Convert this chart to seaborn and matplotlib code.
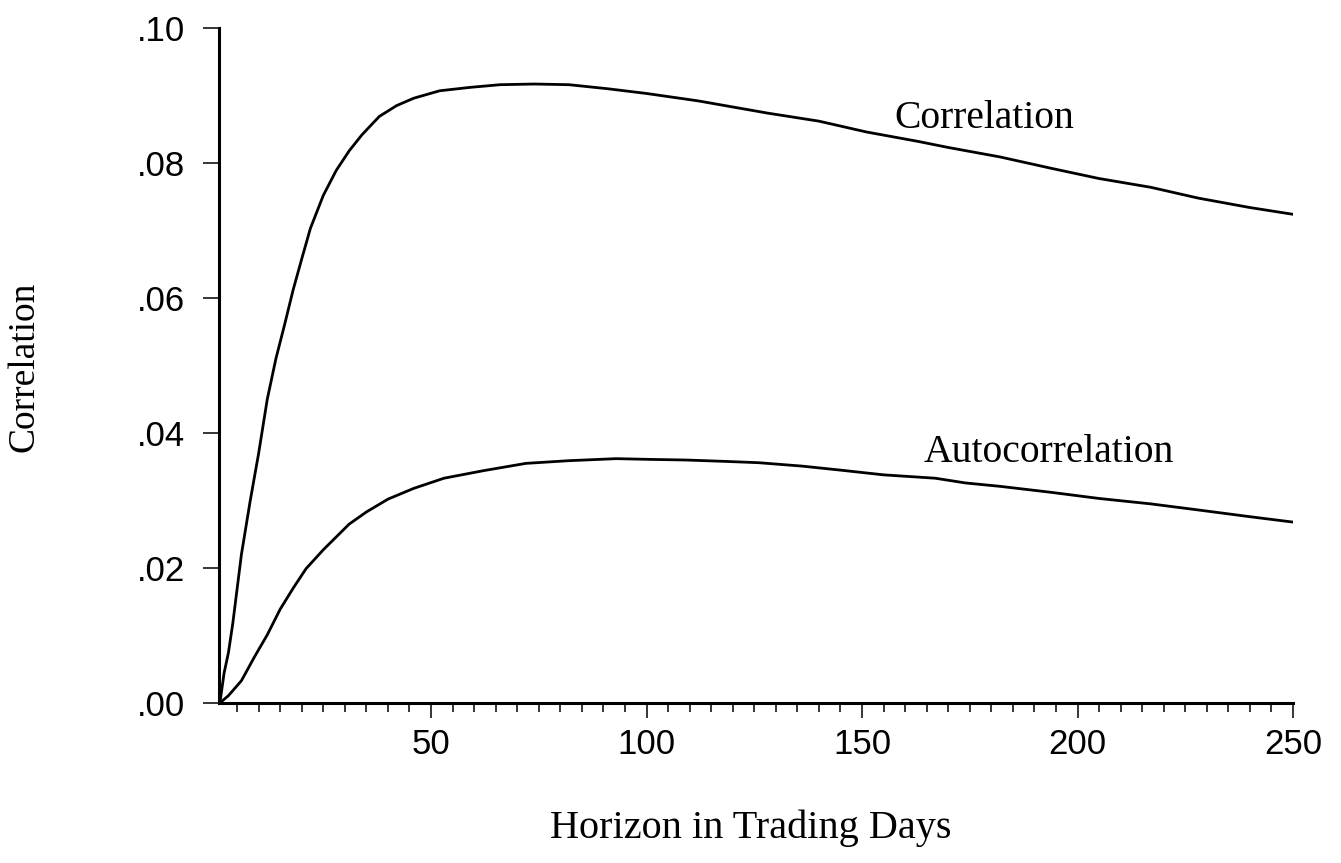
import matplotlib
matplotlib.use("Agg")
import matplotlib.pyplot as plt
from matplotlib.ticker import MultipleLocator, FuncFormatter
import pandas as pd
import seaborn as sns

# values
corr_days = [1, 2, 3, 4, 6, 8, 10, 12, 14, 16, 18, 20, 22, 25, 28, 31, 34, 38,
             42, 46, 52, 59, 66, 74, 82, 91, 100, 112, 128, 140, 151, 163, 170,
             182, 194, 205, 217, 228, 240, 250]
corr_vals = [0.0000, 0.0045, 0.0075, 0.0118, 0.0220, 0.0298, 0.0370, 0.0450,
             0.0510, 0.0560, 0.0612, 0.0658, 0.0703, 0.0752, 0.0789, 0.0818,
             0.0842, 0.0869, 0.0885, 0.0896, 0.0907, 0.0912, 0.0916, 0.0917,
             0.0916, 0.0910, 0.0903, 0.0892, 0.0874, 0.0862, 0.0846, 0.0832,
             0.0823, 0.0809, 0.0792, 0.0777, 0.0764, 0.0748, 0.0734, 0.0724]

auto_days = [1, 3, 6, 9, 12, 15, 18, 21, 25, 28, 31, 35, 40, 46, 53, 62, 72,
             82, 93, 100, 109, 118, 126, 136, 145, 155, 167, 174, 182, 194,
             205, 217, 228, 240, 250]
auto_vals = [0.0000, 0.0011, 0.0033, 0.0068, 0.0101, 0.0139, 0.0170, 0.0199,
             0.0227, 0.0246, 0.0265, 0.0283, 0.0302, 0.0318, 0.0333, 0.0344,
             0.0355, 0.0359, 0.0362, 0.0361, 0.0360, 0.0358, 0.0356, 0.0351,
             0.0345, 0.0338, 0.0333, 0.0326, 0.0321, 0.0312, 0.0303, 0.0295,
             0.0286, 0.0276, 0.0268]

y_ticks = [0.00, 0.02, 0.04, 0.06, 0.08, 0.10]
x_ticks = [50, 100, 150, 200, 250]

sns.set_theme(style="ticks")
plt.rcParams["font.family"] = ["Liberation Sans", "DejaVu Sans"]
plt.rcParams["text.color"] = "black"
plt.rcParams["axes.labelcolor"] = "black"

corr_df = pd.DataFrame({"day": corr_days, "value": corr_vals})
auto_df = pd.DataFrame({"day": auto_days, "value": auto_vals})

fig = plt.figure(figsize=(13.41, 8.63), dpi=100)
ax = fig.add_axes([219 / 1341, 1 - 703 / 863, 1074 / 1341, 675 / 863])

sns.lineplot(data=corr_df, x="day", y="value", color="black", linewidth=2.0, ax=ax)
sns.lineplot(data=auto_df, x="day", y="value", color="black", linewidth=2.0, ax=ax)

ax.set_xlim(0.8, 250)
ax.set_ylim(0, 0.10)
ax.set_xticks(x_ticks)
ax.xaxis.set_minor_locator(MultipleLocator(5))
ax.set_yticks(y_ticks)
ax.yaxis.set_major_formatter(FuncFormatter(lambda v, _: f"{v:.2f}".lstrip("0")))

sns.despine(ax=ax)
for side in ["left", "bottom"]:
    ax.spines[side].set_linewidth(2.2)
    ax.spines[side].set_color("black")

ax.tick_params(axis="x", which="major", length=11, width=1.1, pad=7,
               labelsize=25, colors="black", direction="out")
ax.tick_params(axis="x", which="minor", length=6.5, width=1.1,
               colors="black", direction="out")
ax.tick_params(axis="y", which="major", length=11.5, width=1.1, pad=13,
               labelsize=25, colors="black", direction="out")

serif = ["Liberation Serif", "DejaVu Serif"]
ax.set_xlabel("Horizon in Trading Days", family=serif, fontsize=29, va="center")
ax.xaxis.set_label_coords(0.4953, -0.185)
ax.set_ylabel("Correlation", family=serif, fontsize=27, va="center")
ax.yaxis.set_label_coords(-0.1816, 0.498)

ax.text(157.5, 0.0852, "Correlation", family=serif, fontsize=28.5,
        ha="left", va="baseline")
ax.text(164.2, 0.0357, "Autocorrelation", family=serif, fontsize=28.5,
        ha="left", va="baseline")

fig.savefig("out.png", dpi=100)
